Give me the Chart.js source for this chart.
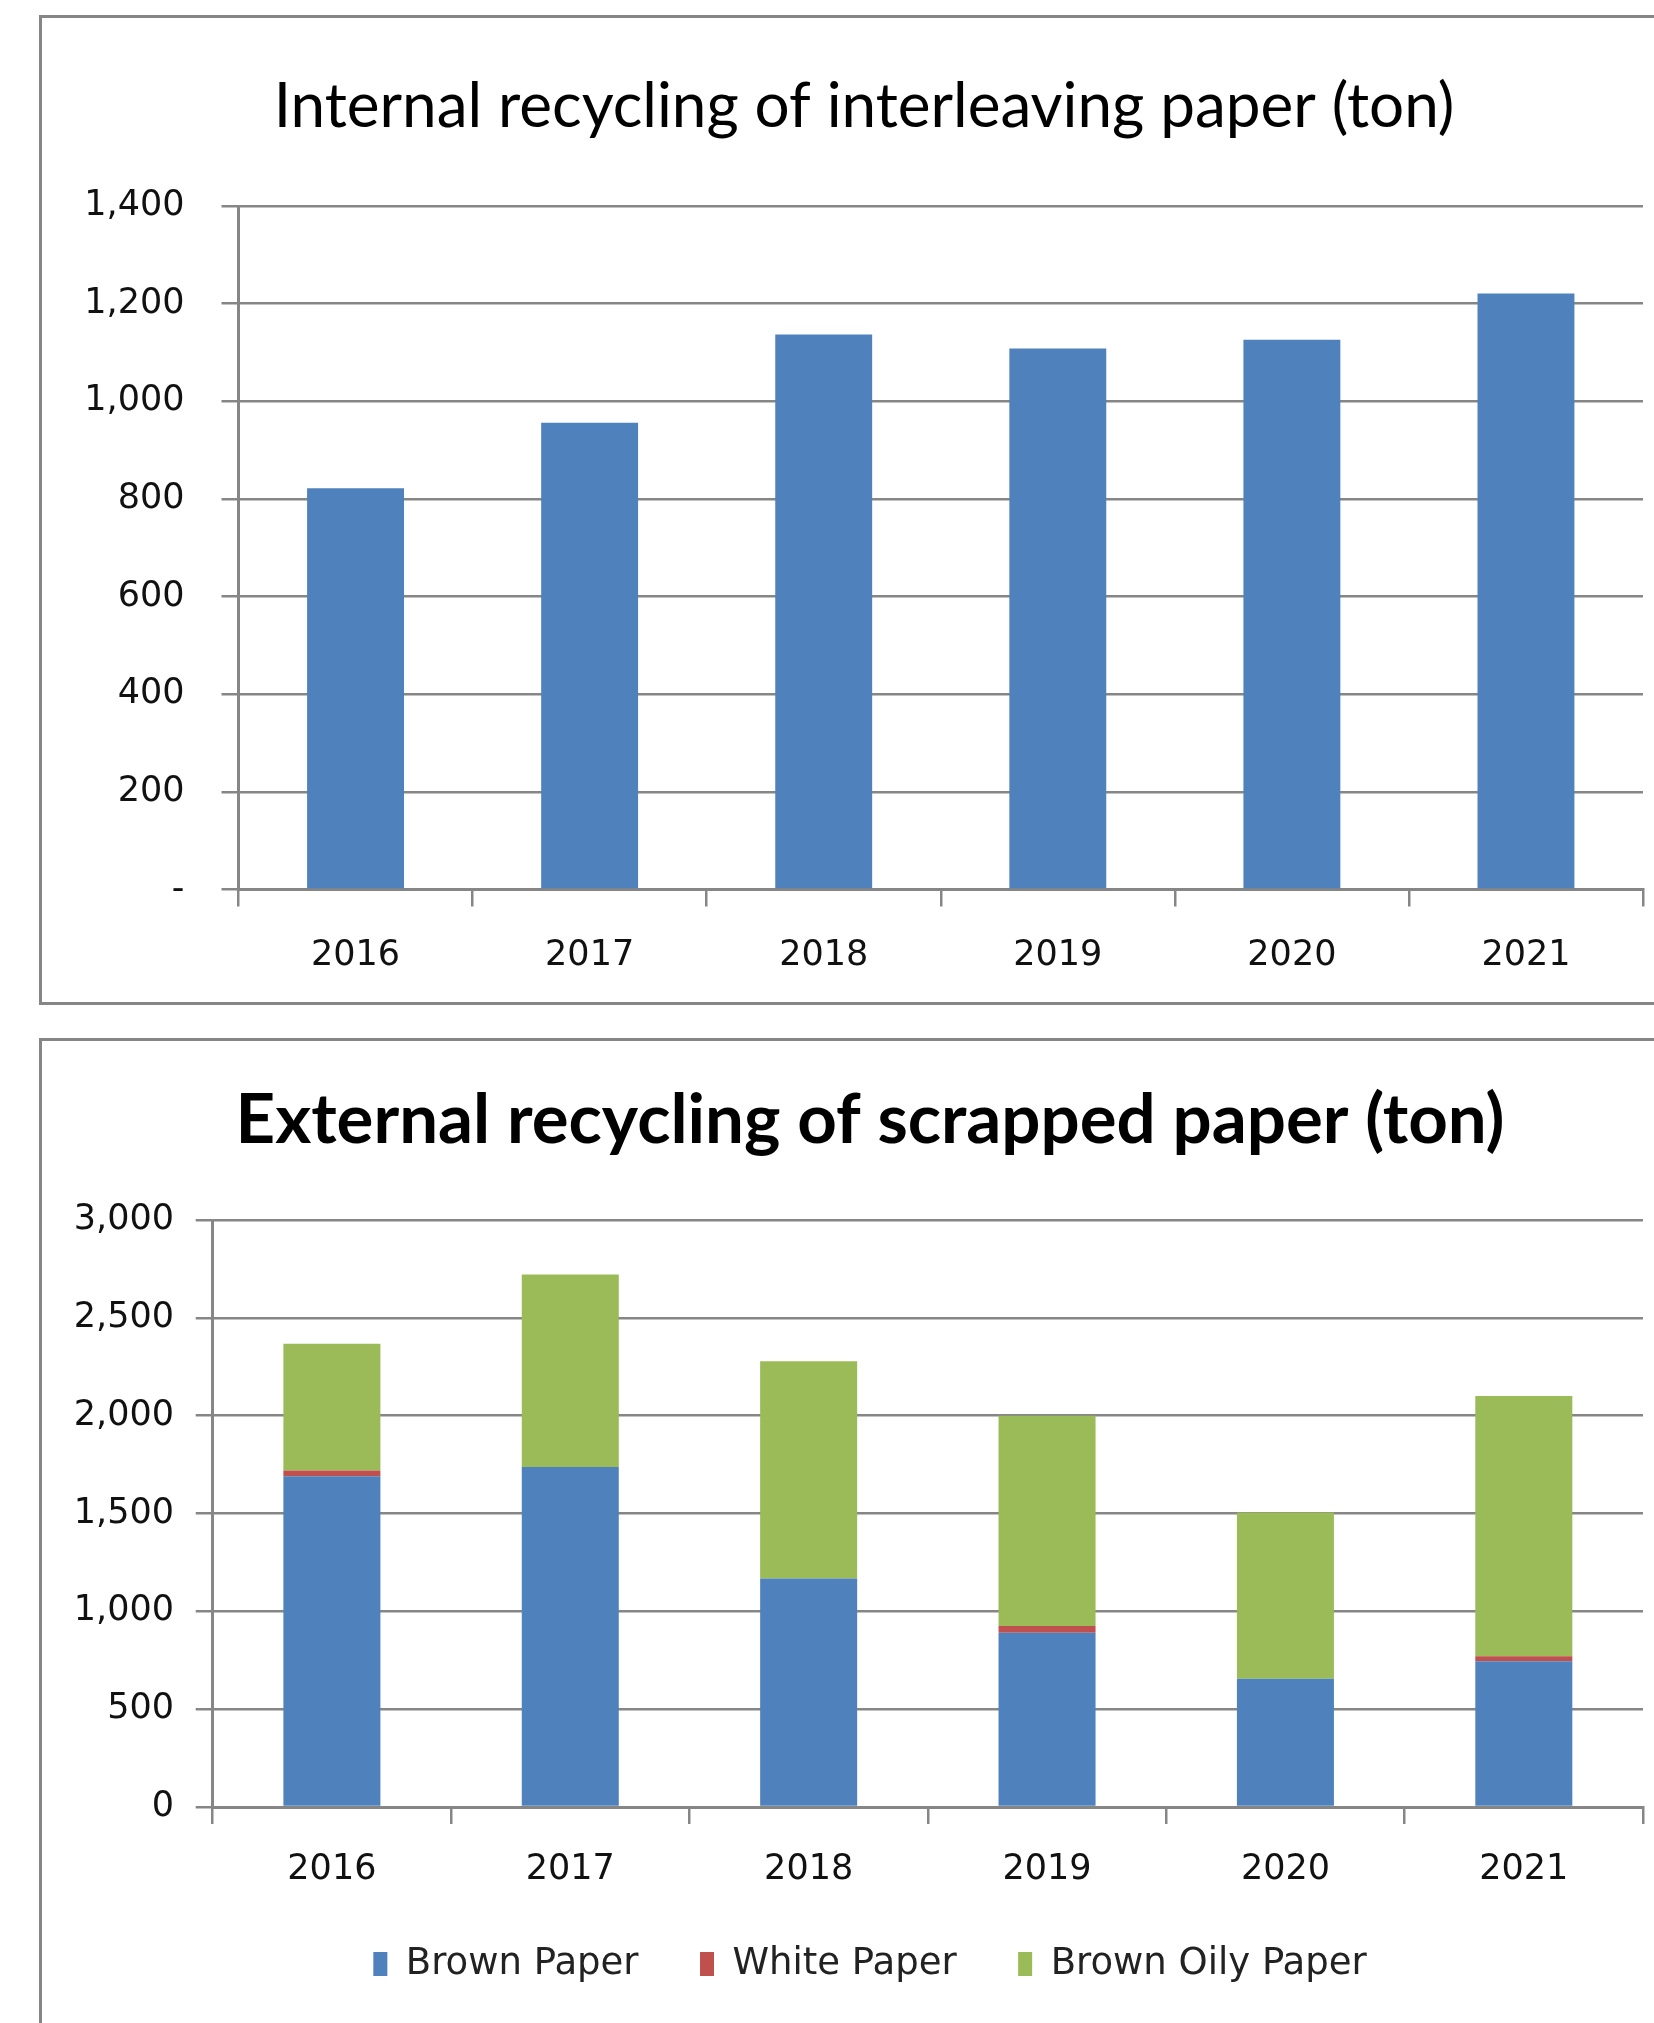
<!DOCTYPE html>
<html>
<head>
<meta charset="utf-8">
<script src="https://cdn.jsdelivr.net/npm/chart.js@4/dist/chart.umd.min.js"></script>
<style>
  html, body { margin: 0; padding: 0; background: #fff; overflow: hidden; width: 1654px; height: 2023px; }
  .panel { position: absolute; box-sizing: border-box; border: 3px solid #868686; border-right: none; background: #fff; }
  #p1 { left: 39px; top: 15px; width: 1640px; height: 990px; }
  #p2 { left: 39px; top: 1038px; width: 1640px; height: 1100px; border-bottom: none; }
  .box { position: absolute; left: 0; top: 0; }
  #b1 { width: 1644px; height: 984px; }
  #b2 { width: 1656px; height: 982px; }
</style>
</head>
<body>
<div class="panel" id="p1"><div class="box" id="b1"><canvas id="c1"></canvas></div></div>
<div class="panel" id="p2"><div class="box" id="b2"><canvas id="c2"></canvas></div></div>
<script>
// ---- data ----
const years = ['2016', '2017', '2018', '2019', '2020', '2021'];
const internalTons = [822, 956, 1137, 1108, 1126, 1221];
const brownPaper = [1690, 1738, 1168, 890, 655, 745];
const whitePaper = [30, 0, 0, 35, 0, 25];
const brownOilyPaper = [647, 984, 1110, 1075, 850, 1330];
const internalTicks = [0, 200, 400, 600, 800, 1000, 1200, 1400];
const externalTicks = [0, 500, 1000, 1500, 2000, 2500, 3000];
const title1 = 'Internal recycling of interleaving paper (ton)';
const title2 = 'External recycling of scrapped paper (ton)';

// ---- style ----
const GRID = '#868686';
const BLUE = '#4F81BD', RED = '#C0504D', GREEN = '#9BBB59';
const TICKFONT = { family: "'DejaVu Sans', Verdana, sans-serif", size: 35 };
const TITLEFAMILY = "Lato, 'Open Sans', sans-serif";
Chart.defaults.animation = false;
Chart.defaults.color = '#111';

function fmt(v) { return Number(v).toLocaleString('en-US'); }

// invisible right-hand spacer axis so that title/legend centre like the original
function spacer(w) {
  return {
    type: 'linear', position: 'right', display: true,
    grid: { display: false, drawTicks: false }, border: { display: false },
    ticks: { display: false },
    afterFit: s => { s.width = w; }
  };
}

new Chart(document.getElementById('c1'), {
  type: 'bar',
  data: {
    labels: years,
    datasets: [{ label: 'Internal', data: internalTons, backgroundColor: BLUE,
      categoryPercentage: 1, barPercentage: 0.414 }]
  },
  options: {
    responsive: true, maintainAspectRatio: false,
    layout: { padding: { left: 0, right: 0, top: 0, bottom: 0 } },
    plugins: {
      legend: { display: false },
      tooltip: { enabled: false },
      title: { display: true, text: title1, color: '#000',
        font: { family: TITLEFAMILY, size: 62, weight: 'normal', lineHeight: 1.2 },
        padding: { top: 51.8, bottom: 61.8 } }
    },
    scales: {
      x: {
        grid: { display: true, drawOnChartArea: false, drawTicks: true, tickLength: 17, color: GRID, lineWidth: 2.5, offset: true },
        border: { display: true, color: GRID, width: 3 },
        ticks: { font: TICKFONT, color: '#111', padding: 28, maxRotation: 0 },
        afterFit: s => { s.height = 112.5; }
      },
      y: {
        min: 0, max: 1400,
        afterBuildTicks: s => { s.ticks = internalTicks.map(v => ({ value: v })); },
        grid: { color: GRID, lineWidth: 2.5, drawTicks: true, tickLength: 17 },
        border: { display: true, color: GRID, width: 3 },
        ticks: { font: TICKFONT, color: '#111', padding: 37, callback: v => v === 0 ? '-' : fmt(v) },
        afterFit: s => { s.width = 196.5; }
      },
      pad: spacer(43)
    }
  }
});

new Chart(document.getElementById('c2'), {
  type: 'bar',
  data: {
    labels: years,
    datasets: [
      { label: 'Brown Paper', data: brownPaper, backgroundColor: BLUE, categoryPercentage: 1, barPercentage: 0.407 },
      { label: 'White Paper', data: whitePaper, backgroundColor: RED, categoryPercentage: 1, barPercentage: 0.407 },
      { label: 'Brown Oily Paper', data: brownOilyPaper, backgroundColor: GREEN, categoryPercentage: 1, barPercentage: 0.407 }
    ]
  },
  options: {
    responsive: true, maintainAspectRatio: false,
    layout: { padding: { left: 0, right: 0, top: 0, bottom: 30.5 } },
    plugins: {
      tooltip: { enabled: false },
      title: { display: true, text: title2, color: '#000',
        font: { family: TITLEFAMILY, size: 69, weight: 'bold', lineHeight: 1.2 },
        padding: { top: 38.6, bottom: 57.6 } },
      legend: {
        display: true, position: 'bottom',
        labels: { boxWidth: 14, boxHeight: 24, padding: 61.5, color: '#222',
          font: { family: "'DejaVu Sans', Verdana, sans-serif", size: 37 } }
      }
    },
    scales: {
      x: {
        stacked: true,
        grid: { display: true, drawOnChartArea: false, drawTicks: true, tickLength: 17, color: GRID, lineWidth: 2.5, offset: true },
        border: { display: true, color: GRID, width: 3 },
        ticks: { font: TICKFONT, color: '#111', padding: 25, maxRotation: 0 },
        afterFit: s => { s.height = 77; }
      },
      y: {
        stacked: true, min: 0, max: 3000,
        afterBuildTicks: s => { s.ticks = externalTicks.map(v => ({ value: v })); },
        grid: { color: GRID, lineWidth: 2.5, drawTicks: true, tickLength: 17 },
        border: { display: true, color: GRID, width: 3 },
        ticks: { font: TICKFONT, color: '#111', padding: 21.7, callback: v => fmt(v) },
        afterFit: s => { s.width = 170.7; }
      },
      pad: spacer(55)
    }
  }
});
</script>
</body>
</html>
